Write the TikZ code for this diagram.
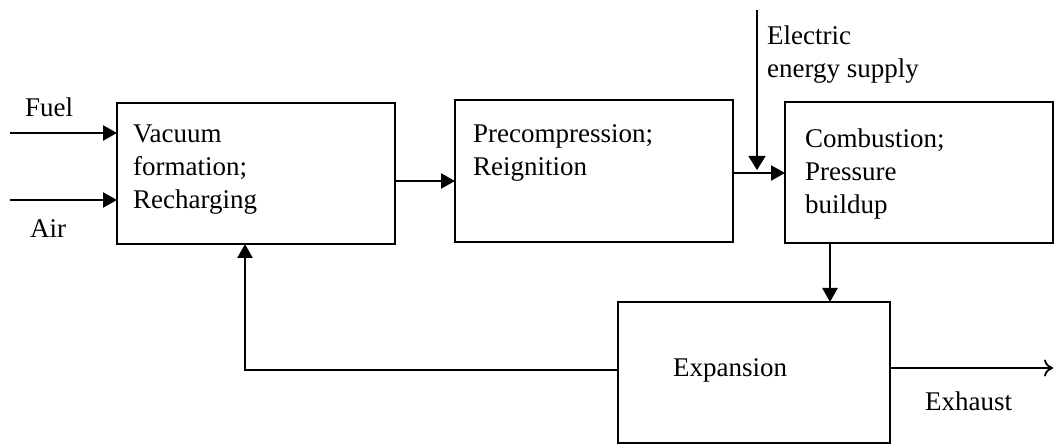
\documentclass[tikz,border=0pt]{standalone}
\usepackage{fontspec}
\setmainfont{Liberation Serif}
\usetikzlibrary{arrows.meta}
\begin{document}
\begin{tikzpicture}[x=1pt,y=-1pt,
  box/.style={draw,line width=2.8pt,anchor=north west,inner sep=0pt,outer sep=0pt},
  lbl/.style={anchor=base west,inner sep=0pt,font=\fontsize{27}{33}\selectfont},
  arr/.style={line width=2.4pt,-{Triangle[length=14pt,width=15pt]}},
  thinarr/.style={line width=1.6pt,-{Triangle[length=14pt,width=17pt]}},
  openarr/.style={line width=2.2pt,-{To[length=9pt,width=17pt,line width=1.8pt]}}]
\useasboundingbox (0,0) rectangle (1055,446);
% boxes
\node[box,minimum width=278pt,minimum height=141pt] (b1) at (117,103) {};
\node[box,minimum width=278pt,minimum height=142pt] (b2) at (455,100) {};
\node[box,minimum width=268pt,minimum height=141pt] (b3) at (785,102) {};
\node[box,minimum width=272pt,minimum height=141pt] (b4) at (618,302) {};
% box texts
\node[lbl] (t1) at (133,143) {\begin{tabular}[t]{@{}l@{}}Vacuum\\formation;\\Recharging\end{tabular}};
\node[lbl] (t2) at (473,143) {\begin{tabular}[t]{@{}l@{}}Precompression;\\Reignition\end{tabular}};
\node[lbl] (t3) at (805,148) {\begin{tabular}[t]{@{}l@{}}Combustion;\\Pressure\\buildup\end{tabular}};
\node[lbl] (t4) at (673,377) {Expansion};
% outside labels
\node[lbl] (fuel) at (25,117) {Fuel};
\node[lbl] (air) at (30,238) {Air};
\node[lbl] (elec) at (767,45) {\begin{tabular}[t]{@{}l@{}}Electric\\energy supply\end{tabular}};
\node[lbl] (exh) at (925,410) {Exhaust};
% coordinates
\coordinate (fuelin) at (10,133);
\coordinate (airin) at (10,200);
\coordinate (y12) at (0,181);
\coordinate (y23) at (0,173);
\coordinate (elin) at (757,10);
\coordinate (elend) at (757,170);
\coordinate (x34) at (830,0);
\coordinate (fb) at (245,370);
\coordinate (exout) at (1053,368);
% connectors
\draw[arr] (fuelin) -- (fuelin -| b1.west);
\draw[arr] (airin) -- (airin -| b1.west);
\draw[arr] (b1.east |- y12) -- (b2.west |- y12);
\draw[arr] (b2.east |- y23) -- (b3.west |- y23);
\draw[thinarr] (elin) -- (elend);
\draw[arr] (b3.south -| x34) -- (b4.north -| x34);
\draw[arr] (b4.west |- fb) -- (fb) -- (fb |- b1.south);
\draw[openarr] (b4.east |- exout) -- (exout);
\end{tikzpicture}
\end{document}
